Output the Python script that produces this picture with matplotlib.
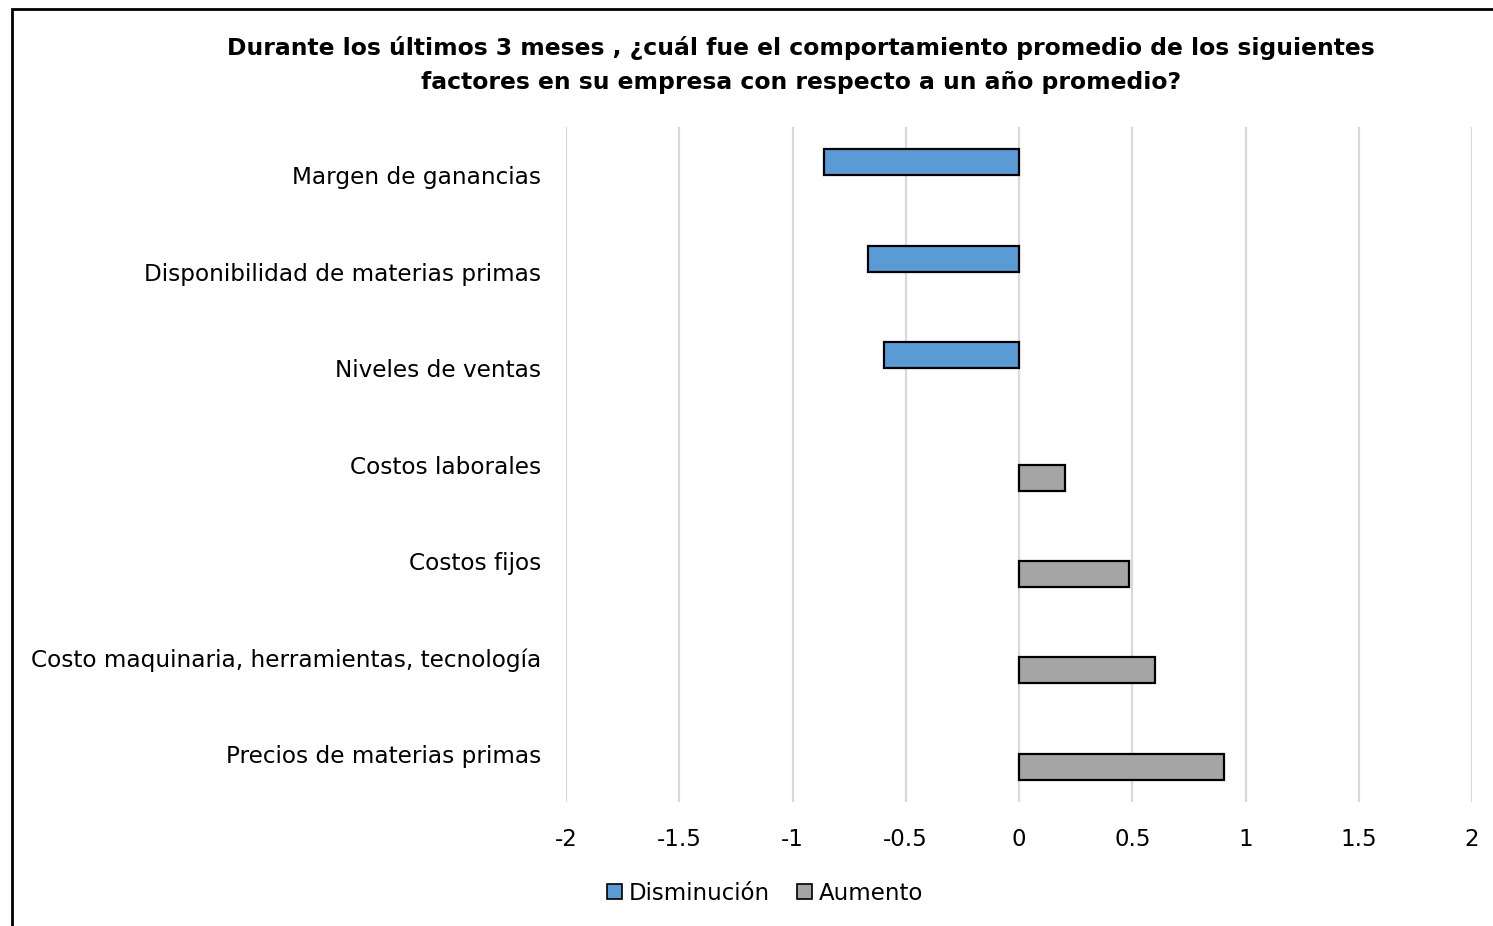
import matplotlib
matplotlib.use("Agg")
import matplotlib.pyplot as plt
from matplotlib.patches import Rectangle, Patch
import numpy as np

plt.rcParams['font.family'] = ['DejaVu Sans']

categories = [
    "Margen de ganancias",
    "Disponibilidad de materias primas",
    "Niveles de ventas",
    "Costos laborales",
    "Costos fijos",
    "Costo maquinaria, herramientas, tecnología",
    "Precios de materias primas",
]
disminucion = [-0.86, -0.665, -0.595, 0, 0, 0, 0]
aumento = [0, 0, 0, 0.203, 0.484, 0.599, 0.906]
xticks = [-2, -1.5, -1, -0.5, 0, 0.5, 1, 1.5, 2]
xtick_labels = ["-2", "-1.5", "-1", "-0.5", "0", "0.5", "1", "1.5", "2"]
title_lines = ["Durante los últimos 3 meses , ¿cuál fue el comportamiento promedio de los siguientes",
               "factores en su empresa con respecto a un año promedio?"]

blue = "#5B9BD5"
gray = "#A5A5A5"

fig = plt.figure(figsize=(14.93, 9.26), dpi=100)
ax = fig.add_axes([566/1493, 1-802/926, (1472-566)/1493, (802-127)/926])

h = 0.27
y = np.arange(len(categories))
for i, v in enumerate(disminucion):
    if v != 0:
        ax.barh(y[i] - h/2, v, height=h, color=blue, edgecolor="black", linewidth=1.6, zorder=3)
for i, v in enumerate(aumento):
    if v != 0:
        ax.barh(y[i] + h/2, v, height=h, color=gray, edgecolor="black", linewidth=1.6, zorder=3)

ax.set_xlim(-2, 2)
ax.set_ylim(len(categories) - 0.5, -0.5)
ax.set_xticks(xticks)
ax.set_xticklabels(xtick_labels, fontsize=16.5)
ax.set_yticks(y)
ax.set_yticklabels(categories, fontsize=16.7)
ax.tick_params(axis="both", length=0)
ax.tick_params(axis="x", pad=19)
ax.tick_params(axis="y", pad=18)
ax.grid(axis="x", color="#D9D9D9", linewidth=1.6, zorder=0)
for s in ax.spines.values():
    s.set_visible(False)

fig.text(801/1493, 1 - 48/926, title_lines[0], ha="center", va="center", fontsize=16.9,
         fontweight="bold")
fig.text(801/1493, 1 - 82/926, title_lines[1], ha="center", va="center", fontsize=16.9,
         fontweight="bold")

handles = [Patch(facecolor=blue, edgecolor="black", linewidth=1.2, label="Disminución"),
           Patch(facecolor=gray, edgecolor="black", linewidth=1.2, label="Aumento")]
fig.legend(handles=handles, loc="center", bbox_to_anchor=(765/1493, 1 - 893/926), ncol=2,
           frameon=False, fontsize=16.5, handlelength=0.65, handleheight=0.65,
           handletextpad=0.3, columnspacing=1.2)

border = Rectangle((12/1493, -0.1), 1.2, 1 - 9/926 + 0.1, transform=fig.transFigure,
                   fill=False, edgecolor="black", linewidth=2)
fig.patches.append(border)

fig.savefig("out.png", dpi=100, facecolor="white")
